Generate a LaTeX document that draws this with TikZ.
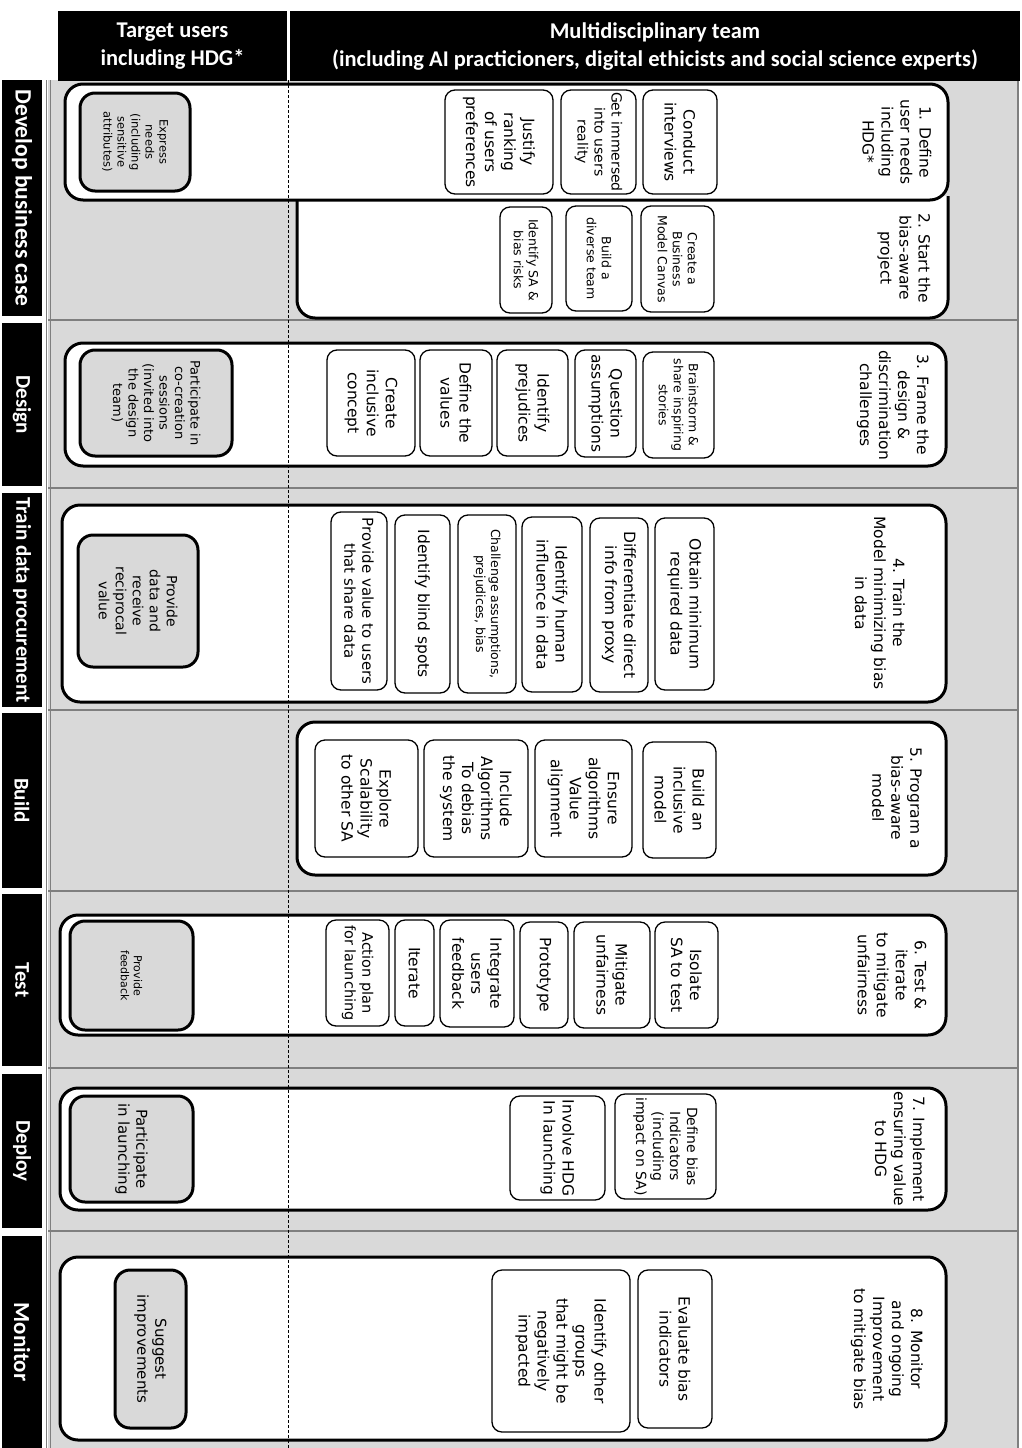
\documentclass[tikz,border=0pt]{standalone}
\usepackage{fontspec}
\setmainfont{DejaVu Sans}
\newfontfamily\hdfont{Carlito}
\definecolor{bgc}{HTML}{D9D9D9}
\definecolor{sepc}{HTML}{7F7F7F}
% box from corner coordinates: style, name, x1, y1, x2, y2, text (rotated)
\newcommand\mkbox[7]{\node[#1,rotate=-90,minimum width={(#6-#4)*1pt},minimum height={(#5-#3)*1pt}] (#2) at ({(#3+#5)/2},{(#4+#6)/2}) {#7};}
\newcommand\mkstage[5]{\node[stage,minimum width={(#4-#2)*1pt},minimum height={(#5-#3)*1pt}] (#1) at ({(#2+#4)/2},{(#3+#5)/2}) {};}
\begin{document}
\begin{tikzpicture}[x=1pt,y=-1pt,
 lbl/.style={fill=black,text=white,rotate=-90,inner sep=0pt,font=\hdfont\bfseries\fontsize{21}{24}\selectfont},
 hdr/.style={fill=black,text=white,align=center,inner sep=0pt,font=\hdfont\bfseries\fontsize{22.5}{28}\selectfont},
 stage/.style={draw=black,line width=3pt,fill=white,rounded corners=18pt},
 ibox/.style={draw=black,line width=1.3pt,fill=white,rounded corners=10pt,align=center,inner sep=1pt,font=\fontsize{15.5}{19}\selectfont},
 sbox/.style={ibox,font=\fontsize{12.5}{15}\selectfont},
 gbox/.style={ibox,fill=bgc,line width=3pt,rounded corners=15pt},
 ttl/.style={rotate=-90,align=center,inner sep=0pt,font=\fontsize{15.5}{19}\selectfont},
 sepline/.style={draw=sepc,line width=2pt},
]
\useasboundingbox (0,0) rectangle (1022,1448);
% background lanes
\fill[bgc] (48,80) rectangle (1018,1448);
\draw[sepc,line width=1.2pt] (1018,80) -- (1018,1448);
\draw[sepc,line width=1.5pt] (46.5,80) -- (46.5,1448);
\draw[sepc,line width=1pt] (50.5,80) -- (50.5,1448);
\foreach \yy in {320,488,710,891,1068,1231} \draw[sepline] (48,\yy) -- (1018,\yy);
% row labels
\node[lbl,minimum width=236,minimum height=40,font=\hdfont\bfseries\fontsize{23.5}{26}\selectfont] (L1) at (22,198) {Develop business case};
\node[lbl,minimum width=163,minimum height=40] (L2) at (22,404.5) {Design};
\node[lbl,minimum width=214,minimum height=40] (L3) at (22,600) {Train data procurement};
\node[lbl,minimum width=175,minimum height=40] (L4) at (22,800.5) {Build};
\node[lbl,minimum width=172,minimum height=40] (L5) at (22,980) {Test};
\node[lbl,minimum width=154,minimum height=40] (L6) at (22,1151) {Deploy};
\node[lbl,minimum width=212,minimum height=40,font=\hdfont\bfseries\fontsize{23}{26}\selectfont] (L7) at (22,1342) {Monitor};
% headers
\node[hdr,minimum width=229,minimum height=70] (H1) at (172.5,46) {Target users\\including HDG*};
\node[hdr,minimum width=730,minimum height=70] (H2) at (655,46) {Multidisciplinary team\\(including AI practicioners, digital ethicists and social science experts)};
% stage boxes
\draw[draw=black,line width=3pt,fill=white,rounded corners=18pt] (297,196) -- (297,318) -- (948,318) -- (948,196);
\coordinate (S2) at (622,259);
\mkstage{S1}{65}{84}{948}{200}
\mkstage{S3}{65}{343}{946}{466}
\mkstage{S4}{62}{505}{946}{702}
\mkstage{S5}{297}{722}{946}{875}
\mkstage{S6}{60}{915}{946}{1035}
\mkstage{S7}{60}{1088}{946}{1210}
\mkstage{S8}{60}{1257}{946}{1440}
% dashed divider
\coordinate (dtop) at (288,80);
\coordinate (dbot) at (288,1448);
\draw[line width=0.9pt,dash pattern=on 3pt off 2pt] (dtop) -- (dbot);
% stage titles
\node[ttl] (T1) at (897,142) {1. Define\\user needs\\including\\HDG*};
\node[ttl] (T2) at (904,258) {2. Start the\\bias-aware\\project};
\node[ttl] (T3) at (893,405) {3. Frame the\\design \&\\discrimination\\challenges};
\node[ttl] (T4) at (880,603) {4. Train the\\Model minimizing bias\\in data};
\node[ttl] (T5) at (897,798) {5. Program a\\bias-aware\\model};
\node[ttl] (T6) at (892,975) {6. Test \&\\iterate\\to mitigate\\unfairness};
\node[ttl] (T7) at (900,1149) {7. Implement\\ensuring value\\to HDG};
\node[ttl] (T8) at (887,1349) {8. Monitor\\and ongoing\\Improvement\\to mitigate bias};
% row 1
\mkbox{ibox}{b11}{643}{90}{717}{194}{Conduct\\interviews}
\mkbox{ibox,font=\fontsize{14}{17}\selectfont}{b12}{561}{90}{636}{194}{Get immersed\\into users\\reality}
\mkbox{ibox}{b13}{445}{90}{553}{194}{Justify\\ranking\\of users\\preferences}
\mkbox{gbox,font=\fontsize{11.5}{14}\selectfont}{g1}{80}{93}{190}{191}{Express\\needs\\(including\\sensitive\\attributes)}
% row 2
\mkbox{sbox}{b21}{641}{206}{714}{312}{Create a\\Business\\Model Canvas}
\mkbox{sbox}{b22}{566}{206}{632}{311}{Build a\\diverse team}
\mkbox{sbox}{b23}{500}{207}{552}{313}{Identify SA \&\\bias risks}
% row 3
\mkbox{sbox}{b31}{643}{352}{714}{458}{Brainstorm \&\\share inspiring\\stories}
\mkbox{ibox}{b32}{575}{350}{636}{457}{Question\\assumptions}
\mkbox{ibox}{b33}{497}{350}{568}{456}{Identify\\prejudices}
\mkbox{ibox}{b34}{420}{350}{492}{456}{Define the\\values}
\mkbox{ibox}{b35}{327}{350}{415}{456}{Create\\inclusive\\concept}
\mkbox{gbox,font=\fontsize{13}{15.5}\selectfont}{g3}{80}{350}{232}{456}{Participate in\\co-creation\\sessions\\(invited into\\the design\\team)}
% row 4
\mkbox{ibox}{b41}{655}{518}{714}{690}{Obtain minimum\\required data}
\mkbox{ibox}{b42}{590}{518}{648}{692}{Differentiate direct\\info from proxy}
\mkbox{ibox}{b43}{522}{517}{582}{692}{Identify human\\influence in data}
\mkbox{sbox}{b44}{458}{515}{516}{693}{Challenge assumptions,\\prejudices, bias}
\mkbox{ibox}{b45}{395}{515}{450}{693}{Identify blind spots}
\mkbox{ibox,font=\fontsize{15}{18}\selectfont}{b46}{331}{512}{387}{690}{Provide value to users\\that share data}
\mkbox{gbox,font=\fontsize{14}{17}\selectfont}{g4}{78}{535}{198}{667}{Provide\\data and\\receive\\reciprocal\\value}
% row 5
\mkbox{ibox}{b51}{643}{742}{716}{858}{Build an\\inclusive\\model}
\mkbox{ibox}{b52}{535}{740}{632}{857}{Ensure\\algorithms\\Value\\alignment}
\mkbox{ibox}{b53}{424}{740}{528}{857}{Include\\Algorithms\\To debias\\the system}
\mkbox{ibox}{b54}{315}{740}{418}{857}{Explore\\Scalability\\to other SA}
% row 6
\mkbox{ibox}{b61}{655}{922}{718}{1028}{Isolate\\SA to test}
\mkbox{ibox}{b62}{574}{922}{650}{1028}{Mitigate\\unfairness}
\mkbox{ibox}{b63}{520}{922}{568}{1028}{Prototype}
\mkbox{ibox}{b64}{440}{920}{514}{1027}{Integrate\\users\\feedback}
\mkbox{ibox}{b65}{395}{920}{434}{1026}{Iterate}
\mkbox{ibox,font=\fontsize{14.5}{17.5}\selectfont}{b66}{326}{920}{389}{1026}{Action plan\\for launching}
\mkbox{gbox,font=\fontsize{11}{13}\selectfont}{g6}{70}{921}{193}{1030}{Provide\\feedback}
% row 7
\mkbox{ibox,font=\fontsize{14}{17}\selectfont}{b71}{615}{1094}{716}{1199}{Define bias\\Indicators\\(including\\impact on SA)}
\mkbox{ibox}{b72}{510}{1096}{605}{1200}{Involve HDG\\In launching}
\mkbox{gbox,font=\fontsize{15}{18}\selectfont}{g7}{70}{1096}{193}{1202}{Participate\\in launching}
% row 8
\mkbox{ibox}{b81}{638}{1270}{712}{1428}{Evaluate bias\\indicators}
\mkbox{ibox}{b82}{492}{1270}{630}{1432}{Identify other\\groups\\that might be\\negatively\\impacted}
\mkbox{gbox,font=\fontsize{15}{18}\selectfont}{g8}{115}{1270}{186}{1428}{Suggest\\improvements}
\end{tikzpicture}
\end{document}
